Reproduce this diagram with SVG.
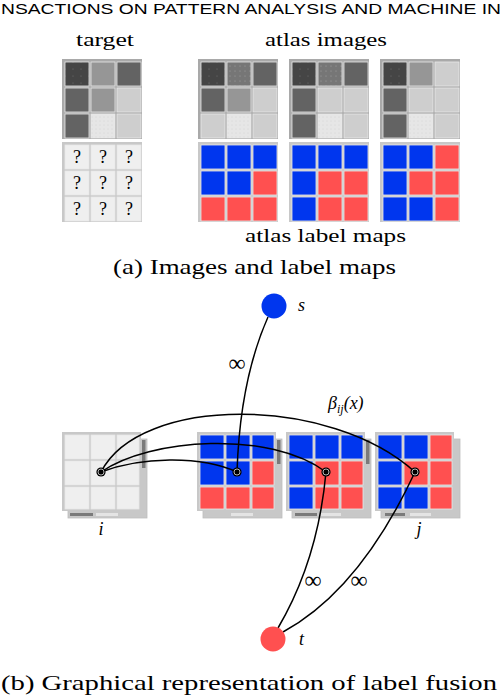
<svg xmlns="http://www.w3.org/2000/svg" width="502" height="696" viewBox="0 0 502 696">
<style>
.ser{font-family:'Liberation Serif',serif;fill:#000}
.it{font-style:italic}
.fi{fill:#a9a9a9}
.fl{fill:#c8c8c8}
.c{stroke:#e8e8e8;stroke-width:0.8}
.d1{fill:url(#pd1)}
.d2{fill:url(#pd2)}
.d3{fill:url(#pd3)}
.g6{fill:#636363}
.g9{fill:#969696}
.gc{fill:#cecece}
.B{fill:#0036ee}
.R{fill:#ff5050}
.L{fill:#efefef}
.q{font-family:'Liberation Serif',serif;font-size:18px;text-anchor:middle}
.e{fill:none;stroke:#000;stroke-width:1.5}
.sh{fill:#c8c8c8;stroke:#bdbdbd;stroke-width:0.8}
.dk{fill:#7a7a7a}
.lt{fill:#e4e4e4}
</style>
<defs>
<pattern id="pd1" width="8" height="7" patternUnits="userSpaceOnUse"><rect width="8" height="7" fill="#454545"/><circle cx="3" cy="3" r="0.5" fill="#777"/></pattern>
<pattern id="pd2" width="5" height="5" patternUnits="userSpaceOnUse"><rect width="5" height="5" fill="#767676"/><circle cx="2" cy="2" r="0.5" fill="#aaa"/></pattern>
<pattern id="pd3" width="4" height="4" patternUnits="userSpaceOnUse"><rect width="4" height="4" fill="#e6e6e6"/><circle cx="2" cy="2" r="0.5" fill="#d0d0d0"/></pattern>
<g id="node"><circle r="4.6" fill="#000"/><circle r="3" fill="none" stroke="#fff" stroke-width="0.7"/><circle r="1.7" fill="#000"/></g>
</defs>
<rect width="502" height="696" fill="#fff"/>
<text x="1" y="14" font-family="Liberation Sans,Arial,sans-serif" font-size="15" textLength="500" lengthAdjust="spacingAndGlyphs">NSACTIONS ON PATTERN ANALYSIS AND MACHINE IN</text>

<!-- Part (a) -->
<text class="ser" x="105" y="46" font-size="18" text-anchor="middle" textLength="58" lengthAdjust="spacingAndGlyphs">target</text>
<text class="ser" x="326" y="46" font-size="18" text-anchor="middle" textLength="122" lengthAdjust="spacingAndGlyphs">atlas images</text>

<g id="target-image" transform="translate(62,59)">
<rect class="fi" width="80" height="80"/>
<rect class="c d1" x="3" y="3" width="24" height="24"/><rect class="c g9" x="29" y="3" width="24" height="24"/><rect class="c g6" x="55" y="3" width="24" height="24"/>
<rect class="c g6" x="3" y="29" width="24" height="24"/><rect class="c g9" x="29" y="29" width="24" height="24"/><rect class="c gc" x="55" y="29" width="24" height="24"/>
<rect class="c g6" x="3" y="55" width="24" height="24"/><rect class="c d3" x="29" y="55" width="24" height="24"/><rect class="c gc" x="55" y="55" width="24" height="24"/>
</g>
<g id="target-labels" transform="translate(62,142)">
<rect class="fl" width="80" height="80"/>
<rect class="c L" x="3" y="3" width="24" height="24"/><rect class="c L" x="29" y="3" width="24" height="24"/><rect class="c L" x="55" y="3" width="24" height="24"/>
<rect class="c L" x="3" y="29" width="24" height="24"/><rect class="c L" x="29" y="29" width="24" height="24"/><rect class="c L" x="55" y="29" width="24" height="24"/>
<rect class="c L" x="3" y="55" width="24" height="24"/><rect class="c L" x="29" y="55" width="24" height="24"/><rect class="c L" x="55" y="55" width="24" height="24"/>
<text class="q" x="15" y="21">?</text><text class="q" x="41" y="21">?</text><text class="q" x="67" y="21">?</text>
<text class="q" x="15" y="47">?</text><text class="q" x="41" y="47">?</text><text class="q" x="67" y="47">?</text>
<text class="q" x="15" y="73">?</text><text class="q" x="41" y="73">?</text><text class="q" x="67" y="73">?</text>
</g>

<g id="atlas1-image" transform="translate(198,59)">
<rect class="fi" width="80" height="80"/>
<rect class="c d1" x="3" y="3" width="24" height="24"/><rect class="c d2" x="29" y="3" width="24" height="24"/><rect class="c g6" x="55" y="3" width="24" height="24"/>
<rect class="c g6" x="3" y="29" width="24" height="24"/><rect class="c g9" x="29" y="29" width="24" height="24"/><rect class="c gc" x="55" y="29" width="24" height="24"/>
<rect class="c gc" x="3" y="55" width="24" height="24"/><rect class="c d3" x="29" y="55" width="24" height="24"/><rect class="c gc" x="55" y="55" width="24" height="24"/>
</g>
<g id="atlas2-image" transform="translate(289,59)">
<rect class="fi" width="80" height="80"/>
<rect class="c d1" x="3" y="3" width="24" height="24"/><rect class="c d2" x="29" y="3" width="24" height="24"/><rect class="c g6" x="55" y="3" width="24" height="24"/>
<rect class="c g6" x="3" y="29" width="24" height="24"/><rect class="c gc" x="29" y="29" width="24" height="24"/><rect class="c gc" x="55" y="29" width="24" height="24"/>
<rect class="c g6" x="3" y="55" width="24" height="24"/><rect class="c d3" x="29" y="55" width="24" height="24"/><rect class="c gc" x="55" y="55" width="24" height="24"/>
</g>
<g id="atlas3-image" transform="translate(380,59)">
<rect class="fi" width="80" height="80"/>
<rect class="c d1" x="3" y="3" width="24" height="24"/><rect class="c g9" x="29" y="3" width="24" height="24"/><rect class="c gc" x="55" y="3" width="24" height="24"/>
<rect class="c g6" x="3" y="29" width="24" height="24"/><rect class="c gc" x="29" y="29" width="24" height="24"/><rect class="c gc" x="55" y="29" width="24" height="24"/>
<rect class="c g6" x="3" y="55" width="24" height="24"/><rect class="c d3" x="29" y="55" width="24" height="24"/><rect class="c gc" x="55" y="55" width="24" height="24"/>
</g>

<g id="atlas1-labels" transform="translate(198,142)">
<rect class="fl" width="80" height="80"/>
<rect class="c B" x="3" y="3" width="24" height="24"/><rect class="c B" x="29" y="3" width="24" height="24"/><rect class="c B" x="55" y="3" width="24" height="24"/>
<rect class="c B" x="3" y="29" width="24" height="24"/><rect class="c B" x="29" y="29" width="24" height="24"/><rect class="c R" x="55" y="29" width="24" height="24"/>
<rect class="c R" x="3" y="55" width="24" height="24"/><rect class="c R" x="29" y="55" width="24" height="24"/><rect class="c R" x="55" y="55" width="24" height="24"/>
</g>
<g id="atlas2-labels" transform="translate(289,142)">
<rect class="fl" width="80" height="80"/>
<rect class="c B" x="3" y="3" width="24" height="24"/><rect class="c B" x="29" y="3" width="24" height="24"/><rect class="c B" x="55" y="3" width="24" height="24"/>
<rect class="c B" x="3" y="29" width="24" height="24"/><rect class="c R" x="29" y="29" width="24" height="24"/><rect class="c R" x="55" y="29" width="24" height="24"/>
<rect class="c B" x="3" y="55" width="24" height="24"/><rect class="c R" x="29" y="55" width="24" height="24"/><rect class="c R" x="55" y="55" width="24" height="24"/>
</g>
<g id="atlas3-labels" transform="translate(380,142)">
<rect class="fl" width="80" height="80"/>
<rect class="c B" x="3" y="3" width="24" height="24"/><rect class="c B" x="29" y="3" width="24" height="24"/><rect class="c R" x="55" y="3" width="24" height="24"/>
<rect class="c B" x="3" y="29" width="24" height="24"/><rect class="c R" x="29" y="29" width="24" height="24"/><rect class="c R" x="55" y="29" width="24" height="24"/>
<rect class="c B" x="3" y="55" width="24" height="24"/><rect class="c B" x="29" y="55" width="24" height="24"/><rect class="c R" x="55" y="55" width="24" height="24"/>
</g>

<text class="ser" x="325.5" y="242" font-size="18" text-anchor="middle" textLength="161" lengthAdjust="spacingAndGlyphs">atlas label maps</text>
<text class="ser" x="254.5" y="274" font-size="21" text-anchor="middle" textLength="283" lengthAdjust="spacingAndGlyphs">(a) Images and label maps</text>

<!-- Part (b) -->
<g id="grid-i" transform="translate(62,432)">
<rect class="sh" x="6" y="7" width="79" height="79"/>
<rect class="dk" x="80" y="8" width="3.5" height="28"/>
<rect class="dk" x="8" y="81" width="23" height="3"/><rect class="lt" x="34" y="81" width="22" height="3"/>
<rect class="fl" width="79" height="79"/>
<rect class="c L" x="3" y="3" width="24" height="24"/><rect class="c L" x="29" y="3" width="24" height="24"/><rect class="c L" x="55" y="3" width="22" height="24"/>
<rect class="c L" x="3" y="29" width="24" height="24"/><rect class="c L" x="29" y="29" width="24" height="24"/><rect class="c L" x="55" y="29" width="22" height="24"/>
<rect class="c L" x="3" y="55" width="24" height="22"/><rect class="c L" x="29" y="55" width="24" height="22"/><rect class="c L" x="55" y="55" width="22" height="22"/>
</g>
<g id="grid-atlas1" transform="translate(197,432)">
<rect class="sh" x="6" y="7" width="79" height="79"/>
<rect class="dk" x="80" y="8" width="3.5" height="24"/>
<rect class="lt" x="34" y="81" width="22" height="3"/>
<rect class="fl" width="79" height="79"/>
<rect class="c B" x="3" y="3" width="24" height="24"/><rect class="c B" x="29" y="3" width="24" height="24"/><rect class="c B" x="55" y="3" width="22" height="24"/>
<rect class="c B" x="3" y="29" width="24" height="24"/><rect class="c B" x="29" y="29" width="24" height="24"/><rect class="c R" x="55" y="29" width="22" height="24"/>
<rect class="c R" x="3" y="55" width="24" height="22"/><rect class="c R" x="29" y="55" width="24" height="22"/><rect class="c R" x="55" y="55" width="22" height="22"/>
</g>
<g id="grid-atlas2" transform="translate(286,432)">
<rect class="sh" x="6" y="7" width="79" height="79"/>
<rect class="dk" x="80" y="8" width="3.5" height="24"/>
<rect class="dk" x="9" y="81" width="22" height="3"/><rect class="lt" x="35" y="81" width="20" height="3"/>
<rect class="fl" width="79" height="79"/>
<rect class="c B" x="3" y="3" width="24" height="24"/><rect class="c B" x="29" y="3" width="24" height="24"/><rect class="c B" x="55" y="3" width="22" height="24"/>
<rect class="c B" x="3" y="29" width="24" height="24"/><rect class="c R" x="29" y="29" width="24" height="24"/><rect class="c R" x="55" y="29" width="22" height="24"/>
<rect class="c B" x="3" y="55" width="24" height="22"/><rect class="c R" x="29" y="55" width="24" height="22"/><rect class="c R" x="55" y="55" width="22" height="22"/>
</g>
<g id="grid-atlas3" transform="translate(375,432)">
<rect class="sh" x="6" y="7" width="79" height="79"/>
<rect class="dk" x="10" y="81" width="20" height="3"/><rect class="lt" x="35" y="81" width="21" height="3"/>
<rect class="fl" width="79" height="79"/>
<rect class="c B" x="3" y="3" width="24" height="24"/><rect class="c B" x="29" y="3" width="24" height="24"/><rect class="c R" x="55" y="3" width="22" height="24"/>
<rect class="c B" x="3" y="29" width="24" height="24"/><rect class="c R" x="29" y="29" width="24" height="24"/><rect class="c R" x="55" y="29" width="22" height="24"/>
<rect class="c B" x="3" y="55" width="24" height="22"/><rect class="c B" x="29" y="55" width="24" height="22"/><rect class="c R" x="55" y="55" width="22" height="22"/>
</g>

<g id="connectors">
<path class="e" d="M268,317 Q240,380 237,472"/>
<path class="e" d="M101,472 C140,395 330,395 415,472"/>
<path class="e" d="M101,472 C150,438 270,430 326,472"/>
<path class="e" d="M101,472 C140,457 200,455 237,472"/>
<path class="e" d="M326,472 Q318,560 278,628"/>
<path class="e" d="M415,472 Q360,590 283,632"/>
</g>

<g id="node-s"><circle cx="274" cy="306" r="12.5" fill="#0036ee"/><text class="ser it" x="298" y="311" font-size="18">s</text></g>
<g id="node-t"><circle cx="273" cy="639" r="12.5" fill="#ff5050"/><text class="ser it" x="299" y="645" font-size="18">t</text></g>
<g id="pt-i"><use href="#node" x="101" y="472"/></g>
<g id="pt-a1"><use href="#node" x="237" y="472"/></g>
<g id="pt-a2"><use href="#node" x="326" y="472"/></g>
<g id="pt-a3"><use href="#node" x="415" y="472"/></g>

<text class="ser" x="237" y="371" font-size="24" text-anchor="middle">∞</text>
<text class="ser" x="313" y="588" font-size="24" text-anchor="middle">∞</text>
<text class="ser" x="359" y="588" font-size="24" text-anchor="middle">∞</text>
<text class="ser it" x="328" y="409" font-size="18">β<tspan font-size="12" dy="4">ij</tspan><tspan dy="-4">(x)</tspan></text>
<text class="ser it" x="101" y="535" font-size="18" text-anchor="middle">i</text>
<text class="ser it" x="419" y="535" font-size="18" text-anchor="middle">j</text>

<text class="ser" x="249" y="690" font-size="21" text-anchor="middle" textLength="496" lengthAdjust="spacingAndGlyphs">(b) Graphical representation of label fusion</text>
</svg>
